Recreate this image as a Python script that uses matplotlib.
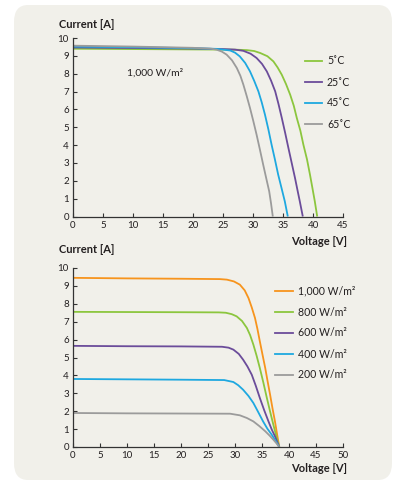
"""Solar module I-V curves: temperature and irradiance dependence."""

import matplotlib

matplotlib.use("Agg")
import matplotlib.pyplot as plt
from matplotlib.patches import FancyBboxPatch

plt.rcParams["font.family"] = ["Lato", "DejaVu Sans"]

# --- top chart: temperature at 1,000 W/m2 ---
temp_labels = ["5˚C", "25˚C", "45˚C", "65˚C"]
v_5c = [0, 10, 20, 26, 27.5, 29, 30.2, 31.2, 32.4, 33.4, 34.1, 34.8, 35.5, 36.2, 36.8,
        37.3, 37.9, 38.4, 39.0, 39.5, 39.9, 40.3, 40.7]
i_5c = [9.40, 9.38, 9.36, 9.35, 9.34, 9.32, 9.27, 9.16, 8.98, 8.69, 8.35, 7.94, 7.42, 6.82, 6.20,
        5.52, 4.80, 4.02, 3.20, 2.34, 1.60, 0.85, 0]
v_25c = [0, 10, 20, 25, 27, 28.4, 29.6, 30.6, 31.5, 32.3, 33.0, 33.7, 34.25, 34.8, 35.35,
         35.9, 36.45, 37.0, 37.4, 37.8, 38.3]
i_25c = [9.47, 9.44, 9.41, 9.38, 9.35, 9.28, 9.12, 8.88, 8.55, 8.13, 7.62, 7.01, 6.30, 5.52, 4.70,
         3.84, 3.00, 2.16, 1.50, 0.85, 0]
v_45c = [0, 10, 20, 24, 26.2, 27.0, 27.8, 28.7, 29.5, 30.2, 30.9, 31.45, 32.0, 32.55, 33.1,
         33.65, 34.2, 34.75, 35.3, 35.8]
i_45c = [9.52, 9.48, 9.43, 9.39, 9.30, 9.18, 8.97, 8.60, 8.13, 7.60, 7.01, 6.40, 5.70, 4.90, 4.02,
         3.20, 2.34, 1.60, 0.85, 0]
v_65c = [0, 10, 20, 23.0, 23.9, 24.8, 25.6, 26.5, 27.3, 27.9, 28.4, 28.95, 29.5, 30.05, 30.6,
         31.15, 31.7, 32.2, 32.7, 33.0, 33.3]
i_65c = [9.57, 9.52, 9.45, 9.40, 9.35, 9.24, 9.07, 8.75, 8.32, 7.88, 7.38, 6.75, 6.08, 5.35, 4.58,
         3.75, 2.90, 2.15, 1.41, 0.75, 0]

# --- bottom chart: irradiance ---
irr_labels = ["1,000 W/m²", "800 W/m²", "600 W/m²", "400 W/m²", "200 W/m²"]
v_1000 = [0, 10, 20, 27.2, 28.5, 29.8, 30.9, 31.8, 32.5, 33.1, 33.7, 34.15, 34.6, 35.1, 35.6,
          36.05, 36.5, 36.95, 37.4, 37.8, 38.2]
i_1000 = [9.45, 9.42, 9.40, 9.38, 9.35, 9.25, 9.07, 8.75, 8.32, 7.80, 7.21, 6.60, 5.90, 5.15, 4.41,
          3.65, 2.92, 2.15, 1.43, 0.70, 0]
v_800 = [0, 10, 20, 27.0, 28.3, 29.4, 30.3, 31.3, 32.2, 32.8, 33.4, 34.0, 34.6, 35.25, 35.9,
         36.5, 37.1, 37.65, 38.2]
i_800 = [7.55, 7.54, 7.53, 7.52, 7.50, 7.42, 7.30, 7.04, 6.65, 6.25, 5.72, 5.10, 4.41, 3.60, 2.74,
         1.98, 1.25, 0.60, 0]
v_600 = [0, 10, 20, 27.6, 28.8, 29.7, 30.7, 31.5, 32.3, 33.1, 33.85, 34.6, 35.4, 36.2, 36.8,
         37.4, 37.8, 38.2]
i_600 = [5.65, 5.63, 5.62, 5.60, 5.55, 5.44, 5.20, 4.88, 4.50, 4.04, 3.42, 2.74, 2.06, 1.43, 0.98,
         0.60, 0.30, 0]
v_400 = [0, 10, 20, 28.0, 29.7, 30.6, 31.5, 32.5, 33.4, 34.3, 35.2, 36.0, 36.8, 37.5, 38.2]
i_400 = [3.80, 3.78, 3.76, 3.74, 3.63, 3.45, 3.20, 2.85, 2.46, 1.95, 1.43, 1.02, 0.69, 0.35, 0]
v_200 = [0, 10, 20, 29.1, 30.9, 32.2, 33.4, 34.5, 35.6, 36.4, 37.1, 37.7, 38.2]
i_200 = [1.90, 1.88, 1.87, 1.86, 1.77, 1.62, 1.43, 1.17, 0.88, 0.64, 0.41, 0.20, 0]

GREEN = "#8cc63e"
PURPLE = "#6b4c9a"
BLUE = "#1ea8e0"
GRAY = "#9b9b9b"
ORANGE = "#f7941d"
PANEL = "#f1f0ea"
INK = "#231f20"

W, H = 400, 484
fig = plt.figure(figsize=(W / 100, H / 100), dpi=100)
fig.patch.set_facecolor("white")

panel = FancyBboxPatch(
    (14 / W, 1 - 480 / H), (392 - 14) / W, (480 - 5) / H,
    boxstyle="round,pad=0,rounding_size=0.035",
    transform=fig.transFigure, facecolor=PANEL, edgecolor="none", zorder=-10,
)
fig.patches.append(panel)


def style_axes(ax, xmax):
    ax.set_facecolor("none")
    for s in ("top", "right"):
        ax.spines[s].set_visible(False)
    for s in ("left", "bottom"):
        ax.spines[s].set_color("#333333")
        ax.spines[s].set_linewidth(0.9)
    ax.set_xlim(0, xmax)
    ax.set_ylim(0, 10)
    ax.set_xticks(range(0, xmax + 1, 5))
    ax.set_yticks(range(0, 11))
    ax.tick_params(direction="in", length=3, width=0.8, colors="#333333",
                   labelsize=7, labelcolor=INK, pad=3)


def px_axes(left, top, right, bottom):
    return fig.add_axes([left / W, 1 - bottom / H, (right - left) / W, (bottom - top) / H])


# top chart
ax1 = px_axes(73, 38, 343, 216.5)
style_axes(ax1, 45)
for v, i, c in zip([v_5c, v_25c, v_45c, v_65c], [i_5c, i_25c, i_45c, i_65c],
                   [GREEN, PURPLE, BLUE, GRAY]):
    ax1.plot(v, i, color=c, lw=1.3, solid_capstyle="butt", solid_joinstyle="round",
             clip_on=False)
ax1.text(127 / W, 1 - 73 / H, "1,000 W/m²", transform=fig.transFigure,
         fontsize=7.5, color=INK, va="center")

# bottom chart
ax2 = px_axes(73, 268, 343, 447)
style_axes(ax2, 50)
for v, i, c in zip([v_1000, v_800, v_600, v_400, v_200],
                   [i_1000, i_800, i_600, i_400, i_200],
                   [ORANGE, GREEN, PURPLE, BLUE, GRAY]):
    ax2.plot(v, i, color=c, lw=1.3, solid_capstyle="butt", solid_joinstyle="round",
             clip_on=False)

# axis titles
for y in (25, 250):
    fig.text(59 / W, 1 - y / H, "Current [A]", fontsize=8, fontweight="bold",
             color=INK, va="center")
for y in (241, 468):
    fig.text(347 / W, 1 - y / H, "Voltage [V]", fontsize=8, fontweight="bold",
             color=INK, va="center", ha="right")


def manual_legend(labels, colors, x0, x1, xt, y0, dy):
    for k, (lab, c) in enumerate(zip(labels, colors)):
        y = 1 - (y0 + k * dy) / H
        fig.add_artist(plt.Line2D([x0 / W, x1 / W], [y, y], color=c, lw=1.3,
                                  transform=fig.transFigure))
        fig.text(xt / W, y, lab, fontsize=7.6, color=INK, va="center")


manual_legend(temp_labels, [GREEN, PURPLE, BLUE, GRAY], 305, 322, 327, 61, 21)
manual_legend(irr_labels, [ORANGE, GREEN, PURPLE, BLUE, GRAY], 275, 293, 298, 291, 21)

fig.savefig("out.png", dpi=100)
plt.close(fig)
